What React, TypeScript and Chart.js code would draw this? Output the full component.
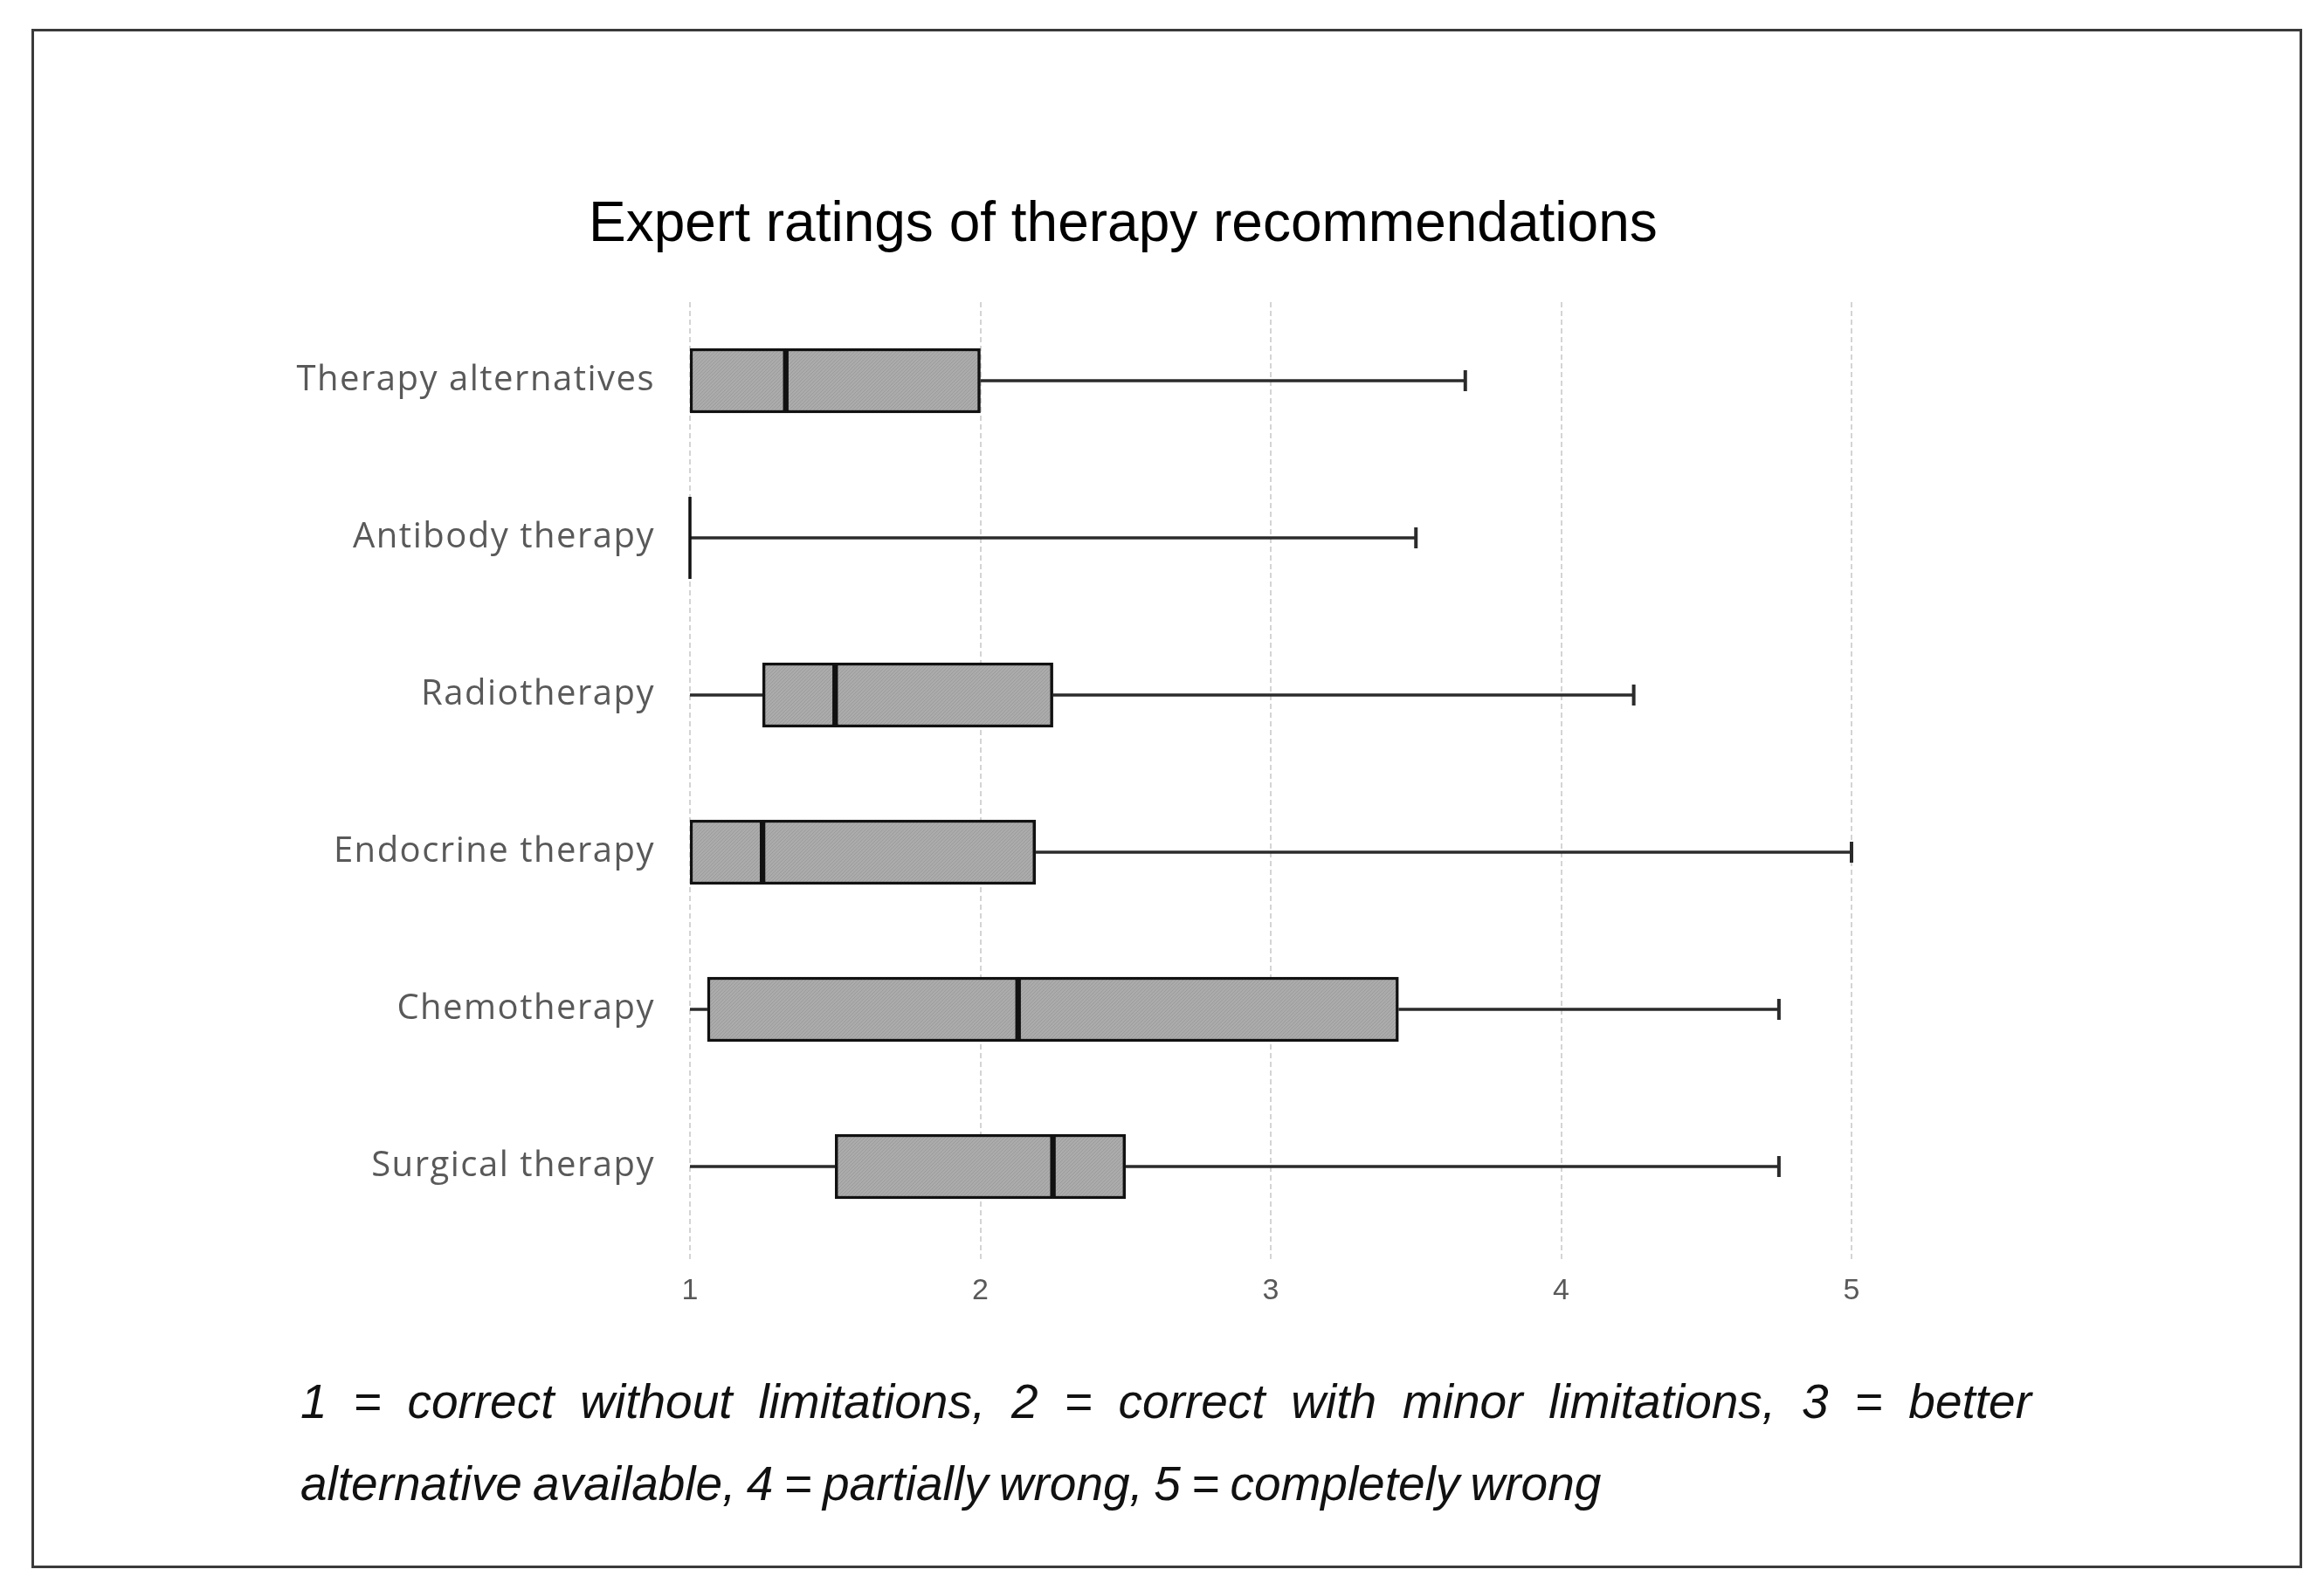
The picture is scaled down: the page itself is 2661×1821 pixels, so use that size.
import React, { useEffect, useRef } from "react";
import { Chart, registerables } from "chart.js";

Chart.register(...registerables);

const categories = [
  "Therapy alternatives",
  "Antibody therapy",
  "Radiotherapy",
  "Endocrine therapy",
  "Chemotherapy",
  "Surgical therapy",
];
const minValues = [1, 1, 1, 1, 1, 1];
const q1Values = [1, 1, 1.25, 1, 1.06, 1.5];
const medianValues = [1.33, 1, 1.5, 1.25, 2.13, 2.25];
const q3Values = [2, 1, 2.25, 2.19, 3.44, 2.5];
const maxValues = [3.67, 3.5, 4.25, 5, 4.75, 4.75];
const xTickValues = [1, 2, 3, 4, 5];

const titleText = "Expert ratings of therapy recommendations";
const noteLine1 =
  "1 = correct without limitations, 2 = correct with minor limitations, 3 = better";
const noteLine2 = "alternative available, 4 = partially wrong, 5 = completely wrong";

const W = 2661;
const H = 1821;
const BOX = 74;

function makePattern(): CanvasPattern | string {
  const c = document.createElement("canvas");
  c.width = 4;
  c.height = 4;
  const g = c.getContext("2d");
  if (!g) return "#a8a8a8";
  g.fillStyle = "#ababab";
  g.fillRect(0, 0, 4, 4);
  g.fillStyle = "#9c9c9c";
  g.fillRect(0, 0, 1, 1);
  g.fillRect(2, 2, 1, 1);
  g.fillRect(1, 3, 1, 1);
  g.fillRect(3, 1, 1, 1);
  const p = g.createPattern(c, "repeat");
  return p || "#a8a8a8";
}

const boxPlugin = {
  id: "boxWhiskers",
  afterDatasetsDraw(chart: any) {
    const ctx = chart.ctx;
    const xs = chart.scales.x;
    const ys = chart.scales.y;
    ctx.save();
    categories.forEach((_, i) => {
      const y = ys.getPixelForValue(i);
      const xMin = xs.getPixelForValue(minValues[i]);
      const xQ1 = xs.getPixelForValue(q1Values[i]);
      const xMed = xs.getPixelForValue(medianValues[i]);
      const xQ3 = xs.getPixelForValue(q3Values[i]);
      const xMax = xs.getPixelForValue(maxValues[i]);
      ctx.strokeStyle = "#2b2b2b";
      ctx.lineWidth = 3.5;
      ctx.beginPath();
      if (xQ1 > xMin + 1) {
        ctx.moveTo(xMin, y);
        ctx.lineTo(xQ1, y);
      }
      ctx.moveTo(xQ3, y);
      ctx.lineTo(xMax, y);
      ctx.stroke();
      // cap at max
      ctx.lineWidth = 4;
      ctx.beginPath();
      ctx.moveTo(xMax, y - 12);
      ctx.lineTo(xMax, y + 12);
      ctx.stroke();
      // median
      const collapsed = Math.abs(xQ3 - xQ1) < 1;
      const half = collapsed ? 47 : BOX / 2 - 1;
      ctx.strokeStyle = "#111111";
      ctx.lineWidth = 3.5;
      ctx.beginPath();
      ctx.moveTo(xMed, y - half);
      ctx.lineTo(xMed, y + half);
      ctx.stroke();
    });
    ctx.restore();
    // letter spacing for y labels (drawn after datasets, z: 1)
    ctx.letterSpacing = "1.5px";
  },
  afterDraw(chart: any) {
    chart.ctx.letterSpacing = "0px";
  },
};

function BoxChart() {
  const ref = useRef<HTMLCanvasElement | null>(null);
  useEffect(() => {
    if (!ref.current) return;
    const pattern = makePattern();
    const chart = new Chart(ref.current, {
      type: "bar",
      data: {
        labels: categories,
        datasets: [
          {
            label: "Q1-Median",
            data: q1Values.map((v, i) => [v, medianValues[i]]) as any,
            backgroundColor: pattern as any,
            borderColor: "#111111",
            borderWidth: 3.5,
            borderSkipped: false,
            barThickness: BOX,
            grouped: false,
          },
          {
            label: "Median-Q3",
            data: medianValues.map((v, i) => [v, q3Values[i]]) as any,
            backgroundColor: pattern as any,
            borderColor: "#111111",
            borderWidth: 3.5,
            borderSkipped: false,
            barThickness: BOX,
            grouped: false,
          },
        ],
      },
      options: {
        indexAxis: "y",
        responsive: false,
        animation: false,
        devicePixelRatio: 1,
        layout: { padding: { top: 346, right: 541, left: 0, bottom: 0 } },
        plugins: {
          legend: { display: false },
          title: { display: false },
          tooltip: { enabled: false },
        },
        scales: {
          x: {
            type: "linear",
            min: 1,
            max: 5,
            afterFit: (s: any) => {
              s.height = 395;
            },
            afterBuildTicks: (s: any) => {
              s.ticks = xTickValues.map((v) => ({ value: v }));
            },
            grid: {
              color: "#d4d4d4",
              lineWidth: 2,
              drawTicks: true,
              tickLength: 16,
              tickColor: "#d4d4d4",
              tickBorderDash: [6, 4],
            },
            border: { display: false, dash: [6, 4] },
            ticks: {
              padding: 16,
              color: "#595959",
              font: { family: "'Liberation Sans', Arial, sans-serif", size: 34 },
            },
          } as any,
          y: {
            type: "category",
            afterFit: (s: any) => {
              s.width = 790;
            },
            grid: { display: false, drawTicks: false },
            border: { display: false },
            ticks: {
              z: 1,
              padding: 40,
              color: "#595959",
              font: { family: "'Open Sans', 'Liberation Sans', sans-serif", size: 40 },
            },
          },
        },
      },
      plugins: [boxPlugin],
    });
    (chart.options.scales as any).x.grid.borderDash = [6, 4];
    chart.update();
    return () => chart.destroy();
  }, []);
  return (
    <canvas
      ref={ref}
      width={W}
      height={H}
      style={{ position: "absolute", left: 0, top: 0, width: W, height: H, display: "block" }}
    />
  );
}

export default function App() {
  return (
    <div style={{ position: "absolute", left: 0, top: 0, width: W, height: H, background: "#fff", overflow: "hidden" }}>
      <div
        style={{
          position: "absolute",
          left: 36,
          top: 33,
          width: 2600,
          height: 1763,
          boxSizing: "border-box",
          border: "3px solid #3a3a3a",
        }}
      />
      <BoxChart />
      <div
        style={{
          position: "absolute",
          left: 674,
          top: 222,
          fontFamily: "'Liberation Sans', Arial, sans-serif",
          fontSize: 64,
          lineHeight: "64px",
          color: "#000",
          whiteSpace: "nowrap",
        }}
      >
        {titleText}
      </div>
      <div
        style={{
          position: "absolute",
          left: 344,
          top: 1558,
          width: 1982,
          fontFamily: "'Liberation Sans', Arial, sans-serif",
          fontStyle: "italic",
          fontSize: 55,
          lineHeight: "94px",
          color: "#111",
        }}
      >
        <div style={{ textAlign: "justify", textAlignLast: "justify", whiteSpace: "nowrap" as any }}>{noteLine1}</div>
        <div style={{ textAlign: "left", whiteSpace: "nowrap", wordSpacing: "-3px" }}>{noteLine2}</div>
      </div>
    </div>
  );
}
